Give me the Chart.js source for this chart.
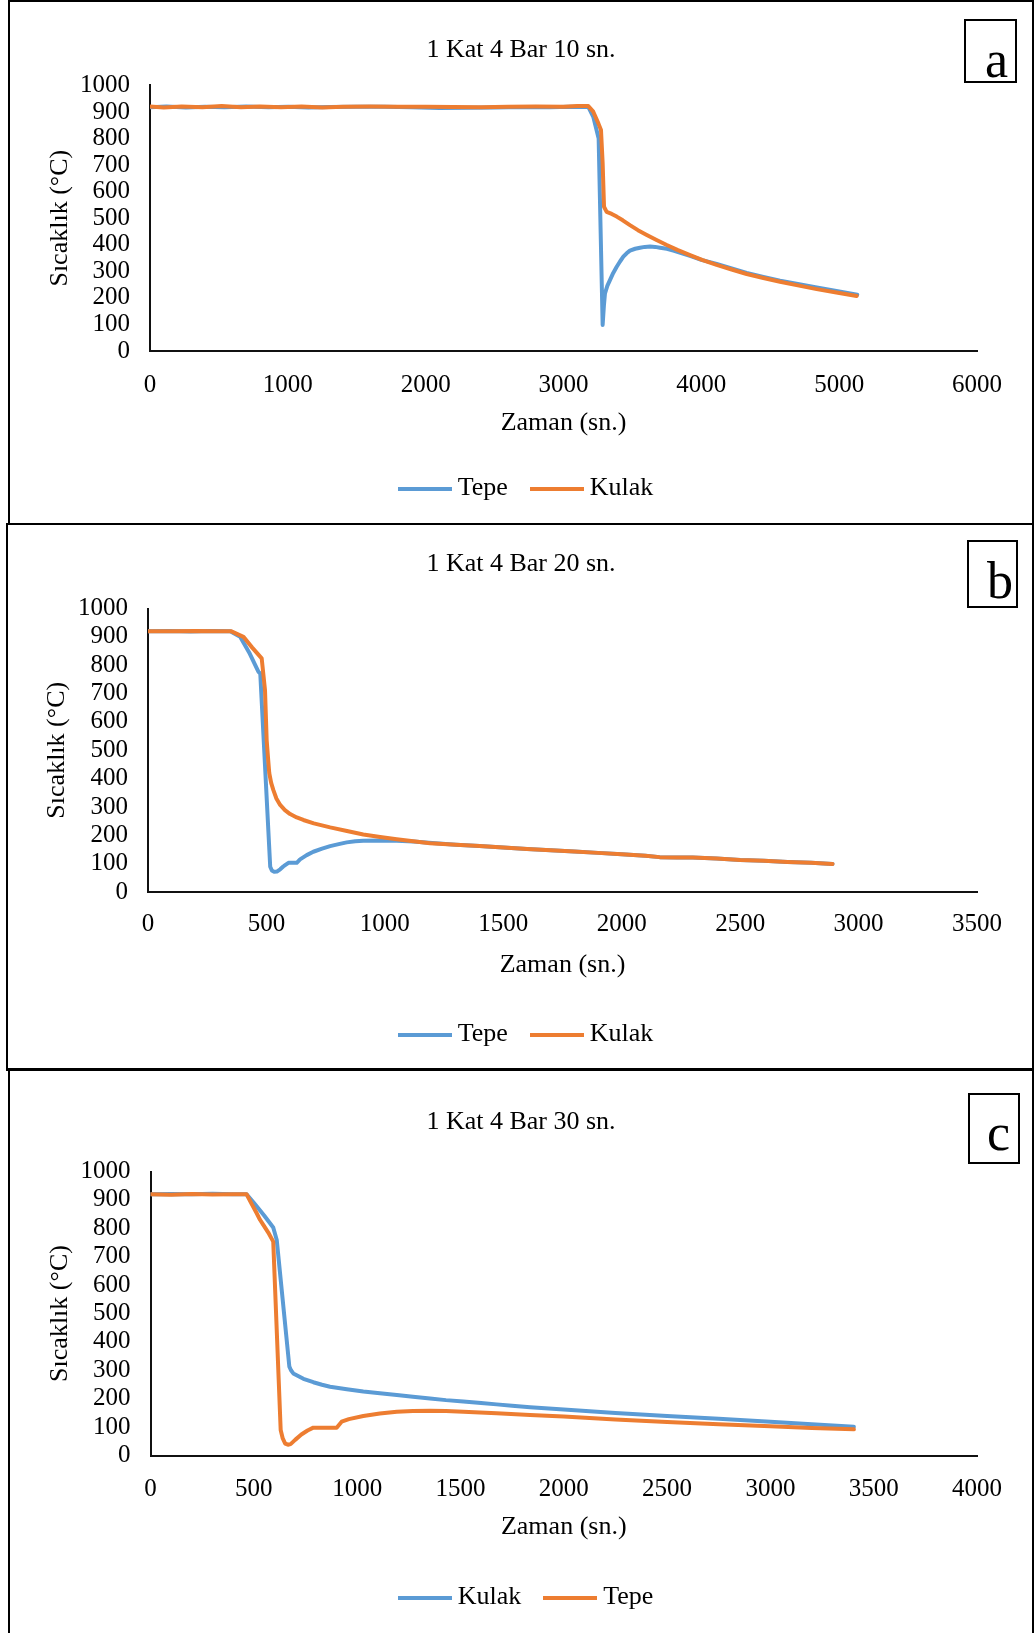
<!DOCTYPE html>
<html><head><meta charset="utf-8">
<script src="https://cdn.jsdelivr.net/npm/chart.js@4.4.1/dist/chart.umd.min.js"></script>
<style>
html,body{margin:0;padding:0;background:#fff;}
body{width:1035px;height:1633px;position:relative;overflow:hidden;}
canvas{position:absolute;left:10px;}
.panel{position:absolute;border:2px solid #000;box-sizing:border-box;pointer-events:none;}
.tag{position:absolute;border:2px solid #000;box-sizing:border-box;background:#fff;}
.tagtxt{position:absolute;font-family:'Liberation Serif','Times New Roman',serif;font-size:52px;line-height:52px;color:#000;}
</style></head><body>
<canvas id="ca" width="1022" height="524" style="top:0px;width:1022px;height:524px"></canvas>
<canvas id="cb" width="1022" height="546" style="top:524px;width:1022px;height:546px"></canvas>
<canvas id="cc" width="1022" height="562" style="top:1071px;width:1022px;height:562px"></canvas>
<div class="panel" style="left:8px;top:0px;width:1026px;height:525px"></div>
<div class="panel" style="left:6px;top:523px;width:1028px;height:548px"></div>
<div class="panel" style="left:8px;top:1068px;width:1026px;height:580px;border-top-width:3px"></div>
<div class="tag" style="left:964px;top:19px;width:53px;height:64px"></div>
<div class="tagtxt" style="left:985px;top:34px">a</div>
<div class="tag" style="left:967px;top:540px;width:51px;height:68px"></div>
<div class="tagtxt" style="left:987px;top:555px">b</div>
<div class="tag" style="left:968px;top:1093px;width:52px;height:71px"></div>
<div class="tagtxt" style="left:987px;top:1107px">c</div>
<script>
// ---------- data ----------
const yTicks = [0, 100, 200, 300, 400, 500, 600, 700, 800, 900, 1000];
const aXTicks = [0, 1000, 2000, 3000, 4000, 5000, 6000];
const bXTicks = [0, 500, 1000, 1500, 2000, 2500, 3000, 3500];
const cXTicks = [0, 500, 1000, 1500, 2000, 2500, 3000, 3500, 4000];

// Panel a: 1 Kat 4 Bar 10 sn.
const aTepeT = [0,120,260,400,540,700,860,1000,1150,1300,1500,1700,1900,2100,2300,2500,2700,2900,3050,3180,3216,3255,3284,3293,3301,3318,3337,3360,3386,3410,3434,3458,3482,3520,3555,3590,3628,3665,3700,3750,3797,3860,3918,4000,4111,4220,4329,4450,4571,4700,4837,4980,5131];
const aTepeV = [918,921,917,920,918,921,918,920,917,919,920,920,918,915,916,917,919,918,920,919,882,800,98,170,217,245,267,293,317,337,355,368,378,385,389,392,393,392,389,385,378,368,358,343,328,311,294,279,265,252,239,226,212];
const aKulakT = [0,100,230,380,520,660,800,950,1100,1250,1400,1600,1800,2000,2200,2400,2600,2800,3000,3100,3180,3216,3253,3272,3284,3294,3313,3350,3386,3430,3482,3540,3604,3675,3749,3830,3918,4010,4111,4220,4329,4450,4571,4700,4837,4980,5127];
const aKulakV = [921,917,921,918,922,918,921,918,921,917,920,921,920,920,919,918,920,921,920,922,922,901,857,832,707,543,524,516,506,492,474,455,437,418,399,380,361,342,324,307,290,275,261,247,233,220,207];

// Panel b: 1 Kat 4 Bar 20 sn.
const bTepeT = [0,90,180,270,347,389,430,466,474,516,523,533,544,558,571,579,593,628,642,670,698,735,769,805,839,875,909,980,1050,1120,1200,1300,1400,1500,1600,1700,1800,1900,2000,2100,2160,2230,2300,2400,2500,2600,2700,2800,2890];
const bTepeV = [920,921,919,921,920,900,840,777,771,89,76,71,72,80,90,95,103,103,115,130,142,153,162,169,175,179,181,182,181,178,173,167,162,157,152,147,143,138,133,128,123,122,122,118,113,110,106,103,99];
const bKulakT = [0,100,200,300,350,403,440,480,494,501,507,512,520,529,542,558,578,600,628,656,700,769,840,909,980,1050,1120,1191,1300,1400,1500,1600,1700,1800,1900,2000,2100,2160,2230,2300,2400,2500,2600,2700,2800,2890];
const bKulakV = [920,920,921,920,920,900,862,824,712,536,470,419,385,360,330,307,289,275,263,254,242,228,215,203,194,186,179,172,167,162,157,152,147,143,138,133,128,123,122,122,118,113,110,106,103,99];

// Panel c: 1 Kat 4 Bar 30 sn.
const cKulakT = [0,100,200,300,400,465,500,550,594,611,672,680,691,740,788,830,869,950,1030,1110,1192,1270,1353,1430,1514,1600,1675,1750,1837,2000,2250,2500,2750,3000,3200,3404];
const cKulakV = [920,921,920,922,920,920,890,845,803,759,313,300,289,270,258,249,242,233,225,219,213,207,201,195,190,185,180,175,170,162,150,139,129,119,110,101];
const cTepeT = [0,100,200,300,400,465,490,514,530,546,570,594,630,640,652,665,678,700,730,760,788,850,901,925,960,1030,1110,1192,1270,1353,1430,1514,1675,1837,2000,2250,2500,2750,3000,3200,3404];
const cTepeV = [920,918,921,919,920,920,885,853,830,812,785,753,90,60,42,38,40,55,74,88,98,98,98,119,128,139,148,154,157,158,157,154,149,143,137,127,118,110,103,97,92];

const BLUE = '#5B9BD5';
const ORANGE = '#ED7D31';
const FONT = "'Liberation Serif', 'Times New Roman', serif";

// ---------- helpers ----------
Chart.defaults.font.family = FONT;
Chart.defaults.color = '#000';

function pts(T, V) { return T.map((t, i) => ({ x: t, y: V[i] })); }
function lineImg(color) {
  const c = document.createElement('canvas');
  c.width = 54; c.height = 4;
  const g = c.getContext('2d');
  g.fillStyle = color; g.fillRect(0, 0, 54, 4);
  return c;
}
const shiftLegend = {
  id: 'shiftLegend',
  afterLayout(chart) {
    if (chart.legend) { chart.legend.left += 8; chart.legend.right += 8; }
  }
};
function setTicks(arr) { return (s) => { s.ticks = arr.map(v => ({ value: v })); }; }

function makeChart(id, P) {
  return new Chart(document.getElementById(id), {
    type: 'line',
    data: {
      datasets: P.series.map((s, i) => ({
        label: s.label,
        data: pts(s.t, s.v),
        borderColor: s.color,
        backgroundColor: s.color,
        borderWidth: 4,
        pointRadius: 0,
        pointHoverRadius: 0,
        tension: 0,
        fill: false,
        borderCapStyle: 'round',
        borderJoinStyle: 'round',
        pointStyle: lineImg(s.color),
        order: 2 - i
      }))
    },
    options: {
      responsive: false,
      animation: false,
      devicePixelRatio: 1,
      events: [],
      layout: { padding: { left: 0, right: 0, top: 0, bottom: P.padBottom } },
      plugins: {
        title: {
          display: true, text: P.title, color: '#000',
          font: { size: 26, weight: 'normal', family: FONT },
          padding: { top: P.titleTop, bottom: P.titleBottom }
        },
        legend: {
          position: 'bottom',
          labels: {
            usePointStyle: true, pointStyleWidth: 40, color: '#000',
            font: { size: 26, family: FONT }, padding: 29,
            sort: (a, b) => a.datasetIndex - b.datasetIndex
          }
        },
        tooltip: { enabled: false }
      },
      scales: {
        x: {
          type: 'linear',
          min: P.xTicks[0], max: P.xTicks[P.xTicks.length - 1],
          afterBuildTicks: setTicks(P.xTicks),
          afterFit: (s) => { s.height = P.xH; },
          grid: { display: false, drawTicks: false },
          border: { display: true, color: '#111', width: 2 },
          ticks: {
            color: '#000', font: { size: 25, family: FONT }, padding: P.xTickPad,
            maxRotation: 0, minRotation: 0, autoSkip: false,
            callback: (v) => String(v)
          },
          title: {
            display: true, text: 'Zaman (sn.)', color: '#000',
            font: { size: 26, family: FONT }, padding: { top: 0, bottom: P.xTitlePad }
          }
        },
        y: {
          type: 'linear', position: 'left',
          min: yTicks[0], max: yTicks[yTicks.length - 1],
          afterBuildTicks: setTicks(yTicks),
          afterFit: (s) => { s.width = P.yW; },
          grid: { display: false, drawTicks: false },
          border: { display: true, color: '#111', width: 2 },
          ticks: {
            color: '#000', font: { size: 25, family: FONT }, padding: 20,
            autoSkip: false, callback: (v) => String(v)
          },
          title: {
            display: true, text: 'Sıcaklık (°C)', color: '#000',
            font: { size: 26, family: FONT }, padding: { top: P.yTitlePad, bottom: 0 }
          }
        },
        yR: {
          type: 'linear', position: 'right', display: true,
          afterFit: (s) => { s.width = 55; },
          grid: { display: false, drawTicks: false },
          border: { display: false },
          ticks: { display: false },
          title: { display: false }
        }
      }
    },
    plugins: [shiftLegend]
  });
}

makeChart('ca', {
  title: '1 Kat 4 Bar 10 sn.',
  xTicks: aXTicks,
  series: [
    { label: 'Tepe', t: aTepeT, v: aTepeV, color: BLUE },
    { label: 'Kulak', t: aKulakT, v: aKulakV, color: ORANGE }
  ],
  titleTop: 34.6, titleBottom: 19.6,
  xH: 95.5, xTickPad: 19.3, xTitlePad: 7.9, padBottom: 12.5,
  yW: 140, yTitlePad: 34.4
});
makeChart('cb', {
  title: '1 Kat 4 Bar 20 sn.',
  xTicks: bXTicks,
  series: [
    { label: 'Tepe', t: bTepeT, v: bTepeV, color: BLUE },
    { label: 'Kulak', t: bKulakT, v: bKulakV, color: ORANGE }
  ],
  titleTop: 24.4, titleBottom: 28.9,
  xH: 100.5, xTickPad: 17.9, xTitlePad: 11.5, padBottom: 12.5,
  yW: 138, yTitlePad: 31.4
});
makeChart('cc', {
  title: '1 Kat 4 Bar 30 sn.',
  xTicks: cXTicks,
  series: [
    { label: 'Kulak', t: cKulakT, v: cKulakV, color: BLUE },
    { label: 'Tepe', t: cTepeT, v: cTepeV, color: ORANGE }
  ],
  titleTop: 35.4, titleBottom: 33.9,
  xH: 100, xTickPad: 19, xTitlePad: 12.5, padBottom: 12.5,
  yW: 140.5, yTitlePad: 34.4
});
</script>
</body></html>
